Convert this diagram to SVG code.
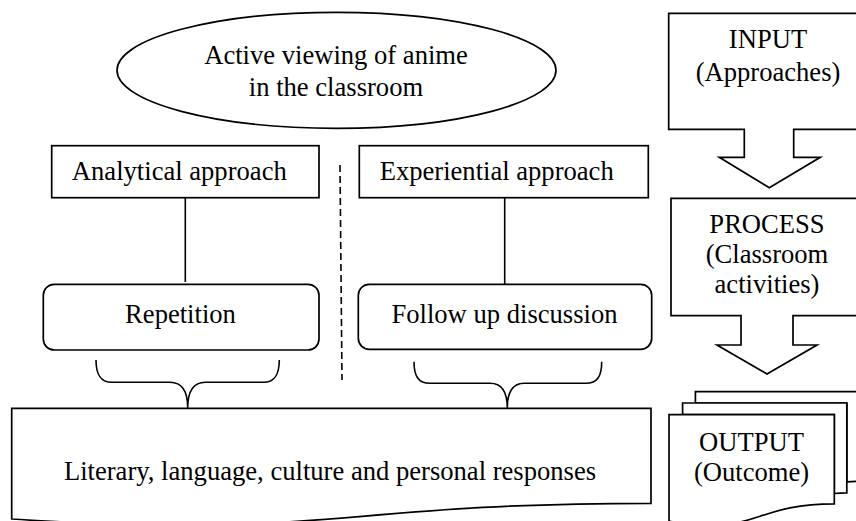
<svg xmlns="http://www.w3.org/2000/svg" width="856" height="521" viewBox="0 0 856 521">
<style>
.s{fill:#fff;stroke:#000;stroke-width:1.7}
.l{fill:none;stroke:#000;stroke-width:1.6}
.d{fill:none;stroke:#000;stroke-width:1.6;stroke-dasharray:7 4}
text{font-family:"Liberation Serif","Times New Roman",serif;font-size:26.6px;fill:#000;text-anchor:middle}
</style>
<rect width="856" height="521" fill="#fff"/>
<g id="connectors">
<line class="l" x1="185.3" y1="198" x2="185.3" y2="282"/>
<line class="l" x1="504.7" y1="198" x2="504.7" y2="284.3"/>
<line class="d" x1="340" y1="165" x2="342" y2="380"/>
<path class="l" d="M96 360 C96 374 100 382.3 112 382.3 L170 382.3 C182 382.3 187.7 392 187.7 408 C187.7 392 193.4 382.3 205.4 382.3 L263.3 382.3 C275.3 382.3 279.3 374 279.3 360"/>
<path class="l" d="M414 361.7 C414 375.7 418 383.3 430 383.3 L490 383.3 C502 383.3 507.3 393 507.3 408 C507.3 393 512.6 383.3 524.6 383.3 L585.7 383.3 C597.7 383.3 601.7 375.7 601.7 361.7"/>
</g>
<g id="ellipse-node">
<ellipse class="s" cx="336.5" cy="70.3" rx="219.5" ry="58"/>
<text x="336" y="64">Active viewing of anime</text>
<text x="336" y="95.5">in the classroom</text>
</g>
<g id="analytical">
<rect class="s" x="51.7" y="145.7" width="267.3" height="52"/>
<text x="179.3" y="180">Analytical approach</text>
</g>
<g id="experiential">
<rect class="s" x="359.3" y="145.7" width="289" height="52"/>
<text x="496.7" y="180">Experiential approach</text>
</g>
<g id="repetition">
<rect class="s" x="43.3" y="284.3" width="275.7" height="65.7" rx="11"/>
<text x="180.5" y="322.7">Repetition</text>
</g>
<g id="followup">
<rect class="s" x="358.3" y="284.3" width="293.4" height="65" rx="11"/>
<text x="504.5" y="323.3">Follow up discussion</text>
</g>
<g id="responses">
<path class="s" d="M11.7 408.3 L651 408.3 L651 503.3 C331.3 503.3 331.3 539.8 11.7 519 Z"/>
<text x="330" y="480">Literary, language, culture and personal responses</text>
</g>
<g id="input">
<path class="s" d="M668.7 13.3 L869.3 13.3 L869.3 129.3 L793.7 129.3 L793.7 157.3 L820.3 157.3 L769.3 187.7 L719.3 157.3 L744.3 157.3 L744.3 129.3 L668.7 129.3 Z"/>
<text x="768" y="48.3">INPUT</text>
<text x="768" y="80.7">(Approaches)</text>
</g>
<g id="process">
<path class="s" d="M671 198.3 L863 198.3 L863 315.7 L793 315.7 L793 345 L817 345 L767 374 L717 345 L741 345 L741 315.7 L671 315.7 Z"/>
<text x="767" y="233.3">PROCESS</text>
<text x="767" y="263.3">(Classroom</text>
<text x="767" y="293.3">activities)</text>
</g>
<g id="output">
<path class="s" d="M695.4 403 L695.4 391.7 L861 391.7 L861 481.3 C853.9 481.3 846.8 481.8 846.8 481.8 L846.8 403 Z"/>
<path class="s" d="M682.6 414.6 L682.6 403 L846.8 403 L846.8 492.9 C840.5 492.9 834.3 493.5 834.3 493.5 L834.3 414.6 Z"/>
<path class="s" d="M669 521.1 C751.6 538.3 751.6 503.9 834.3 503.9 L834.3 414.6 L669 414.6 Z"/>
<text x="751.5" y="450.7">OUTPUT</text>
<text x="751.5" y="480.7">(Outcome)</text>
</g>
</svg>
